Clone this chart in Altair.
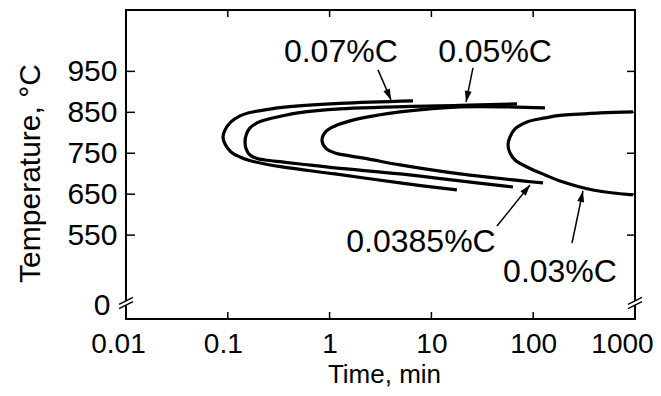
import math
import altair as alt
import pandas as pd

# ---- data (time in min, temperature in degC) ----
# each curve traced from its upper end, through the nose, to its lower end
c007_time = [6.6, 1.265, 0.341, 0.232, 0.158, 0.1318, 0.1075, 0.0939, 0.0897,
             0.0939, 0.1075, 0.1318, 0.158, 0.232, 0.341, 1.13, 4.92, 17.8]
c007_temp = [877.9, 871.8, 862, 855.9, 848.5, 841.2, 826.5, 807, 790,
             772.7, 753.2, 741, 733.6, 723.8, 716.5, 699.4, 677.4, 660.3]

c005_time = [69.3, 19.1, 1.265, 0.489, 0.341, 0.232, 0.1935, 0.1652, 0.1527, 0.1476,
             0.1527, 0.1652, 0.1935, 0.232, 0.341, 0.512, 1.13, 4.92, 19.1, 63.3]
c005_temp = [870.5, 866.9, 858.3, 848.5, 841.2, 831.4, 824.1, 811.9, 797.2, 777.6,
             758.1, 745.8, 737.3, 733.6, 728.7, 723.8, 714.1, 699.4, 682.3, 667.6]

c00385_time = [130.6, 19.1, 4.92, 2.38, 1.586, 1.13, 0.922, 0.842,
               0.922, 1.13, 1.586, 2.38, 4.92, 19.1, 124.8]
c00385_temp = [860.8, 863.2, 851, 838.8, 829, 816.7, 803.3, 782.5,
               761.7, 750.7, 743.4, 736.1, 721.4, 699.4, 677.4]

c003_time = [955, 453, 183.4, 130.6, 86.9, 66.3, 59.2, 56.6,
             59.2, 66.3, 86.9, 130.6, 183.4, 386.7, 955]
c003_temp = [851, 848.5, 842.4, 836.3, 826.5, 809.4, 790, 770.3,
             750.7, 733.6, 716.5, 697, 682.3, 660.3, 648.1]

curve_names = ["0.07%C", "0.05%C", "0.0385%C", "0.03%C"]

# labels: text, position (time, temp)
label_text = ["0.07%C", "0.05%C", "0.0385%C", "0.03%C"]
label_time = [1.29, 42.2, 7.9, 183.4]
label_temp = [973, 973, 509, 435]

# arrows: start (near label) -> tip (at curve)
arrow_t0 = [2.99, 25.6, 44.1, 240.5]
arrow_T0 = [953.7, 958.6, 572.2, 530.7]
arrow_t1 = [4.01, 21.9, 93.0, 308]
arrow_T1 = [880.3, 875.5, 672.5, 657.8]

x_ticks = [0.01, 0.1, 1, 10, 100, 1000]
x_minor_marks = [0.1, 1, 10, 100]
y_ticks = [550, 650, 750, 850, 950]
y_zero_pos = 378      # where the broken axis shows "0"
y_break_pos = 384     # axis break symbol
x_domain = [0.01, 1000]
y_domain = [345, 1100]

# ---- layout ----
W, H = 509, 309
PX_PER_DECADE = W / 5
PX_PER_DEG = H / (y_domain[1] - y_domain[0])
FONT = "Liberation Sans"

rows = []
for name, ts, Ts in zip(curve_names, [c007_time, c005_time, c00385_time, c003_time],
                        [c007_temp, c005_temp, c00385_temp, c003_temp]):
    for i, (t, T) in enumerate(zip(ts, Ts)):
        rows.append({"curve": name, "i": i, "t": t, "T": T})
curves_df = pd.DataFrame(rows)


def arrow_angle(t0, T0, t1, T1):
    dx = (math.log10(t1) - math.log10(t0)) * PX_PER_DECADE
    dy = -(T1 - T0) * PX_PER_DEG
    return math.degrees(math.atan2(dx, -dy)) % 360


arrows_df = pd.DataFrame({
    "t": arrow_t0, "T": arrow_T0, "t2": arrow_t1, "T2": arrow_T1,
})
heads_df = pd.DataFrame({
    "t": arrow_t1, "T": arrow_T1,
    "ang": [arrow_angle(a, b, c, d) for a, b, c, d in zip(arrow_t0, arrow_T0, arrow_t1, arrow_T1)],
})
labels_df = pd.DataFrame({"t": label_time, "T": label_temp, "txt": label_text})
xt_df = pd.DataFrame({"t": x_minor_marks})
yt_df = pd.DataFrame({"T": y_ticks})
brk_df = pd.DataFrame({"t": [x_domain[0], x_domain[1]], "T": [y_break_pos, y_break_pos]})

x_axis = alt.Axis(
    values=x_ticks, format="~g", grid=False, domain=False, ticks=False, tickSize=0,
    labelFont=FONT, labelFontSize=28, labelColor="black", labelPadding=33,
    labelBaseline="alphabetic", labelFlush=False, labelOverlap=False,
    labelOffset={"condition": [{"test": "datum.value > 500", "value": -13},
                               {"test": "datum.value < 0.05", "value": -8},
                               {"test": "datum.value < 0.5", "value": -5}],
                 "value": 0},
    title="Time, min", titleFont=FONT, titleFontSize=26, titleFontWeight="normal",
    titleColor="black", titleX=258, titleY=63, titleAlign="center", titleBaseline="alphabetic",
)
y_axis = alt.Axis(
    values=[y_zero_pos] + y_ticks, labelExpr="datum.value < 500 ? '0' : datum.label",
    grid=False, domain=False, ticks=False, tickSize=0,
    labelFont=FONT, labelFontSize=30, labelColor="black",
    labelPadding={"condition": {"test": "datum.value < 500", "value": 16}, "value": 9},
    labelOverlap=False, labelFlush=False,
    title="Temperature, °C", titleFont=FONT, titleFontSize=30, titleFontWeight="normal",
    titleColor="black", titleAngle=270, titleX=-87, titleY=163, titleAlign="center",
    titleBaseline="alphabetic",
)


def X(field="t"):
    return alt.X(f"{field}:Q", scale=alt.Scale(type="log", domain=x_domain), axis=x_axis)


def Y(field="T"):
    return alt.Y(f"{field}:Q", scale=alt.Scale(domain=y_domain, zero=False), axis=y_axis)


curves = alt.Chart(curves_df).mark_line(
    color="black", strokeWidth=3.2, interpolate="catmull-rom"
).encode(
    x=X(), y=Y(), detail="curve:N", order=alt.Order("i:Q"),
)

tick_style = dict(color="black", strokeWidth=1.5)
ticks_bottom = alt.Chart(xt_df).mark_rule(**tick_style).encode(
    x=X(), y=alt.value(H), y2=alt.value(H - 7))
ticks_top = alt.Chart(xt_df).mark_rule(**tick_style).encode(
    x=X(), y=alt.value(0), y2=alt.value(7))
ticks_left = alt.Chart(yt_df).mark_rule(**tick_style).encode(
    y=Y(), x=alt.value(0), x2=alt.value(9))
ticks_right = alt.Chart(yt_df).mark_rule(**tick_style).encode(
    y=Y(), x=alt.value(W), x2=alt.value(W - 8))

arrow_lines = alt.Chart(arrows_df).mark_rule(color="black", strokeWidth=1.5).encode(
    x=X(), y=Y(), x2="t2:Q", y2="T2:Q")
arrow_heads = alt.Chart(heads_df).mark_point(
    shape="M 0 0 L 0.7 2.2 L -0.7 2.2 Z", filled=True, color="black", size=100, opacity=1
).encode(x=X(), y=Y(), angle=alt.Angle("ang:Q", scale=None))

labels = alt.Chart(labels_df).mark_text(
    font=FONT, fontSize=32, color="black", align="center", baseline="alphabetic"
).encode(x=X(), y=Y(), text="txt:N")

brk_fill = alt.Chart(brk_df).mark_point(
    shape="M -1 0.2 L 1 -0.8 L 1 -0.2 L -1 0.8 Z", filled=True, color="white",
    size=196, opacity=1, strokeWidth=0
).encode(x=X(), y=Y())
brk_lines = alt.Chart(brk_df).mark_point(
    shape="M -1 0.2 L 1 -0.8 M -1 0.8 L 1 -0.2", filled=False, color="black",
    size=196, opacity=1, strokeWidth=1.5
).encode(x=X(), y=Y())

chart = alt.layer(
    curves, ticks_bottom, ticks_top, ticks_left, ticks_right,
    arrow_lines, arrow_heads, labels, brk_fill, brk_lines,
).properties(
    width=W, height=H,
    autosize=alt.AutoSizeParams(type="none"),
    padding={"left": 118, "top": 2, "right": 18, "bottom": 69},
    background="white",
).configure_view(stroke="black", strokeWidth=2)

chart.save("out.html", embed_options={"renderer": "svg", "actions": False})
